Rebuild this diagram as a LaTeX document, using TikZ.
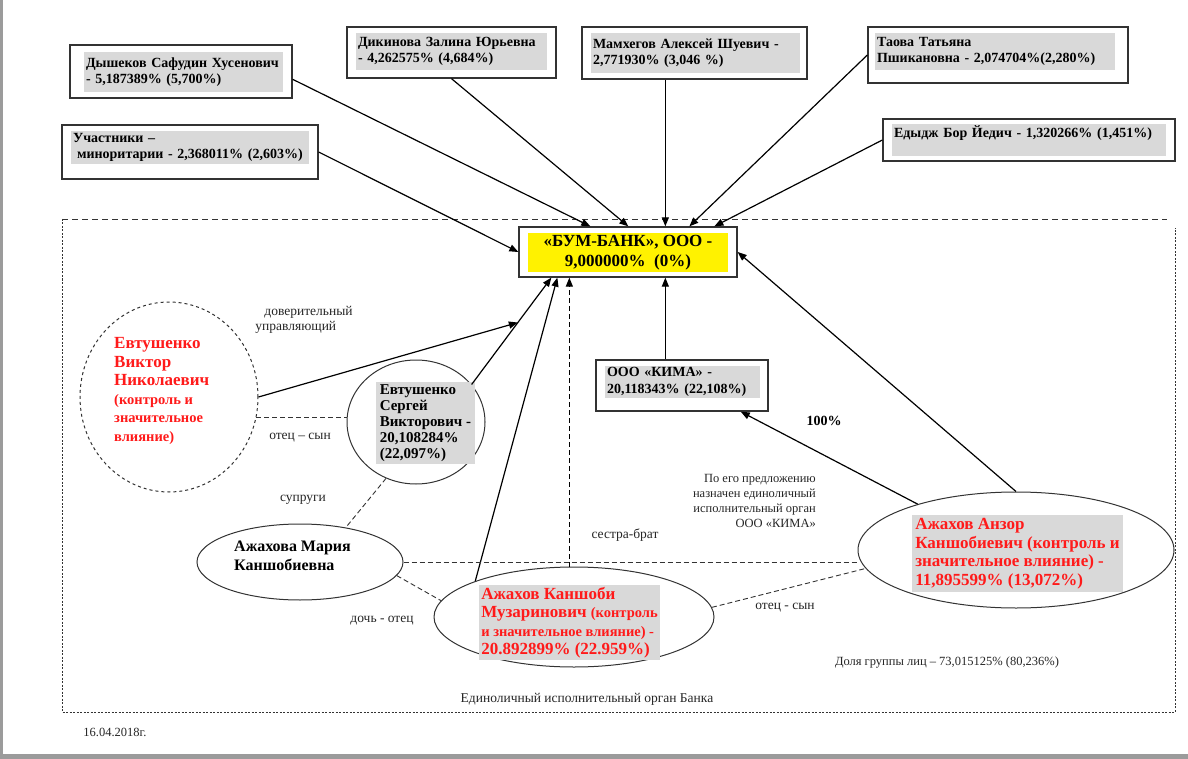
\documentclass[tikz,border=0pt]{standalone}
\usepackage{fontspec}
\setmainfont{Liberation Serif}
\usetikzlibrary{shapes.geometric,arrows.meta,calc}

\definecolor{boxgray}{HTML}{D9D9D9}
\definecolor{linegray}{HTML}{333333}
\definecolor{pagegray}{HTML}{9B9B9B}
\definecolor{redtxt}{HTML}{FF1A1A}

\newcommand{\boxfont}{\bfseries\fontsize{14}{16.5}\selectfont}
\newcommand{\bankfont}{\bfseries\fontsize{17}{19.5}\selectfont}
\newcommand{\bigred}{\bfseries\fontsize{17}{18.5}\selectfont}
\newcommand{\smallred}{\bfseries\fontsize{14.5}{18.5}\selectfont}
\newcommand{\labfont}{\fontsize{13.5}{15}\selectfont}
\newcommand{\tinyfont}{\fontsize{12.5}{15}\selectfont}

\begin{document}
\begin{tikzpicture}[x=1pt, y=-1pt,
    ownerbox/.style={draw=linegray, line width=1.3pt, inner sep=0pt},
    shade/.style={fill=boxgray, inner sep=2pt, align=left, font=\boxfont},
    person/.style={ellipse, draw=linegray, line width=1pt, inner sep=0pt},
    arrow/.style={draw=black, line width=1.2pt, -{Triangle[length=9pt, width=7pt]}},
    relation/.style={draw=linegray, line width=0.9pt, dash pattern=on 5pt off 3pt},
    lab/.style={font=\labfont, text=black!85, inner sep=0pt}]
    \useasboundingbox (0,0) rectangle (1188,759);
    \fill[pagegray] (0,0) rectangle (1188,759);
    \fill[white] (3,0) rectangle (1188,754);

    % dashed frame round the group
    \draw[linegray, line width=0.9pt, dash pattern=on 6pt off 4pt] (62,219) -- (1167,219);
    \draw[linegray, line width=0.9pt, dash pattern=on 2pt off 1.5pt] (62,219) -- (62,712) -- (1175,712) -- (1175,228);

    % owners outside
    \node[ownerbox, minimum width=222, minimum height=53] (dys) at (181,71.5) {};
    \node[shade, text width=195, minimum height=40] (dys text) at (183.5,72) {Дышеков Сафудин Хусенович\\- 5,187389\% (5,700\%)};
    \node[ownerbox, minimum width=209, minimum height=51] (dik) at (451.5,52.5) {};
    \node[shade, text width=187, minimum height=37] (dik text) at (451.5,51.5) {Дикинова Залина Юрьевна\\- 4,262575\% (4,684\%)};
    \node[ownerbox, minimum width=225, minimum height=52] (mam) at (694.5,53) {};
    \node[shade, text width=205, minimum height=40] (mam text) at (695.5,53) {Мамхегов Алексей Шуевич -\\2,771930\% (3,046 \%)};
    \node[ownerbox, minimum width=260, minimum height=56] (tao) at (998,55) {};
    \node[shade, text width=236, minimum height=37] (tao text) at (995,51.5) {Таова Татьяна\\Пшикановна - 2,074704\%(2,280\%)};
    \node[ownerbox, minimum width=256, minimum height=54] (uch) at (190,152) {};
    \node[shade, text width=234, minimum height=31] (uch text) at (190,147.5) {Участники –\\\hspace*{4pt}миноритарии - 2,368011\% (2,603\%)};
    \node[ownerbox, minimum width=292, minimum height=42] (edy) at (1029,140) {};
    \node[shade, text width=270, minimum height=30] (edy text) at (1029,140) {Едыдж Бор Йедич - 1,320266\% (1,451\%)\\~};

    % the bank
    \node[ownerbox, minimum width=218, minimum height=50] (bank) at (628,252) {};
    \node[fill=yellow, minimum width=200, minimum height=39, inner sep=0pt, align=center, font=\bankfont] (bank text) at (628,252.5) {«БУМ-БАНК», ООО -\\9,000000\%\ \ (0\%)};

    \node[ownerbox, minimum width=172, minimum height=51] (kima) at (682,385.5) {};
    \node[shade, text width=151, minimum height=32] (kima text) at (682.5,382) {ООО «КИМА» -\\20,118343\% (22,108\%)};

    % persons of the group
    \node[person, dashed, minimum width=178, minimum height=190] (vik) at (169,397) {};
    \node[anchor=west, align=left, inner sep=0pt, font=\bigred, text=redtxt] (vik text) at (114,391) {Евтушенко\\Виктор\\Николаевич\\{\smallred (контроль и}\\{\smallred значительное}\\{\smallred влияние)}};
    \node[person, minimum width=138, minimum height=124] (ser) at (416,422) {};
    \node[shade, minimum width=99, minimum height=80, font=\bfseries\fontsize{15}{16}\selectfont] (ser text) at (425.5,423) {Евтушенко\\Сергей\\Викторович -\\20,108284\%\\(22,097\%)};
    \node[person, minimum width=206, minimum height=76] (mar) at (300,562) {};
    \node[anchor=west, align=left, inner sep=0pt, font=\bfseries\fontsize{16}{19}\selectfont] (mar text) at (234,556) {Ажахова Мария\\Каншобиевна};
    \node[person, minimum width=280, minimum height=100] (kan) at (574,617) {};
    \node[shade, minimum width=175, minimum height=71, font=\bigred, text=redtxt] (kan text) at (569.5,622.5) {Ажахов Каншоби\\Музаринович {\smallred (контроль}\\{\smallred и значительное влияние) -}\\20.892899\% (22.959\%)};
    \node[person, minimum width=316, minimum height=116] (anz) at (1016,550) {};
    \node[shade, minimum width=211, minimum height=77, font=\bigred, text=redtxt] (anz text) at (1017.5,553.5) {Ажахов Анзор\\Каншобиевич (контроль и\\значительное влияние) -\\11,895599\% (13,072\%)};

    % points on the bank box
    \coordinate (t1) at ($(bank.north west)+(72,0)$);
    \coordinate (t2) at ($(bank.north west)+(110,0)$);
    \coordinate (t3) at ($(bank.north west)+(147,0)$);
    \coordinate (t4) at ($(bank.north west)+(171,0)$);
    \coordinate (t5) at ($(bank.north west)+(196,0)$);
    \coordinate (u1) at ($(bank.south west)+(33,0)$);
    \coordinate (u2) at ($(bank.south west)+(39,0)$);
    \coordinate (u3) at ($(bank.south west)+(51,0)$);
    \coordinate (u4) at ($(bank.south west)+(147,0)$);

    \draw[arrow] (dys.-4) -- (t1);
    \draw[arrow] (dik.south) -- (t2);
    \draw[arrow] (mam.south -| t3) -- (t3);
    \draw[arrow] (tao.west) -- (t4);
    \draw[arrow] (edy.west) -- (t5);
    \draw[arrow] (uch.east) -- (bank.west);
    \draw[arrow] (anz.north) -- (bank.east);
    \draw[arrow] (ser.34) -- coordinate[pos=0.58] (trust) (u1);
    \draw[arrow] (vik.east) -- (trust);
    \draw[arrow] (kan.160) -- (u2);
    \draw[arrow, dash pattern=on 5pt off 3pt] (kan.north -| u3) -- (u3);
    \draw[arrow] (kima.north -| u4) -- (u4);
    \draw[arrow] (anz.155) -- (kima.-24);

    % family ties
    \draw[relation] (vik.-13) -- (vik.-13 -| ser.west);
    \draw[relation] (ser.-118) -- (mar.37);
    \draw[relation] (mar.east) -- (mar.east -| anz.west);
    \draw[relation] (mar.-8) -- (kan.173);
    \draw[relation] (kan.4) -- (anz.-173);

    \node[lab, align=left] (trust text) at (304,320) {\hspace*{9pt}доверительный\\управляющий};
    \node[lab] (father son) at (300,438) {отец – сын};
    \node[lab] (spouses) at (303,500) {супруги};
    \node[lab] (sister) at (625,535) {сестра-брат};
    \node[lab] (daughter) at (382,621) {дочь - отец};
    \node[lab] (father son2) at (785,608) {отец - сын};
    \node[font=\boxfont, inner sep=0pt] (full) at (824,421) {100\%};
    \node[lab, font=\tinyfont, align=right, anchor=east] (proposal) at (816,501) {По его предложению\\назначен единоличный\\исполнительный орган\\ООО «КИМА»};
    \node[lab, font=\tinyfont] (share) at (947,663) {Доля группы лиц – 73,015125\% (80,236\%)};
    \node[lab] (exec) at (587,699) {Единоличный исполнительный орган Банка};
    \node[lab, font=\tinyfont] (date) at (115,732) {16.04.2018г.};
\end{tikzpicture}
\end{document}
